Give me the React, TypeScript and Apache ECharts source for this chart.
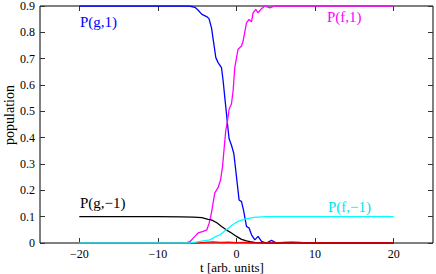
import React, { useEffect, useRef } from "react";
import * as echarts from "echarts";

// P(g,1) — blue
const tGg1 = [-20, -10, -6, -5.3, -4.9, -4.4, -3.8, -3.5, -3.18, -2.88, -2.63, -2.34, -1.91, -1.7, -1.49, -1.27, -1.14, -0.94, -0.64, -0.34, 0, 0.33, 0.64, 0.93, 1.27, 1.6, 1.91, 2.33, 2.74, 3.18, 3.81, 4.45, 5.08, 6, 7, 8, 9, 20];
const vGg1 = [0.9, 0.9, 0.9, 0.895, 0.885, 0.868, 0.86, 0.852, 0.817, 0.755, 0.704, 0.685, 0.666, 0.616, 0.553, 0.49, 0.45, 0.396, 0.371, 0.34, 0.251, 0.163, 0.157, 0.119, 0.063, 0.057, 0.031, 0.012, 0.025, 0.006, 0, 0.01, 0, 0.002, 0.003, 0.002, 0, 0];

// P(f,1) — magenta
const tGf1 = [-20, -10, -6.5, -5.93, -5.3, -4.88, -4.24, -3.77, -3.48, -3.18, -2.76, -2.34, -2.03, -1.78, -1.52, -1.36, -1.14, -0.94, -0.64, -0.43, -0.22, 0.2, 0.64, 0.84, 1.27, 1.6, 1.91, 2.11, 2.45, 2.74, 3.18, 3.6, 4.23, 4.86, 20];
const vGf1 = [0, 0, 0, 0.005, 0.025, 0.038, 0.044, 0.05, 0.075, 0.115, 0.19, 0.21, 0.239, 0.289, 0.377, 0.428, 0.465, 0.509, 0.528, 0.578, 0.666, 0.736, 0.748, 0.767, 0.836, 0.849, 0.84, 0.874, 0.887, 0.874, 0.89, 0.9, 0.893, 0.9, 0.9];

// P(g,-1) — black
const tGgm1 = [-20, -10, -7, -5.5, -4.4, -3.6, -3.2, -2.5, -1.9, -1.3, -0.64, 0, 0.64, 1.27, 1.7, 2.3, 3.2, 4.2, 20];
const vGgm1 = [0.1, 0.1, 0.099, 0.098, 0.096, 0.09, 0.088, 0.077, 0.063, 0.05, 0.038, 0.025, 0.014, 0.008, 0.005, 0.002, 0.001, 0, 0];

// red (unlabelled)
const tRed = [-20, -5, -4, -3, -2, -1, 0, 1, 2, 20];
const vRed = [0, 0, 0.002, 0.004, 0.002, 0.003, 0.001, 0.002, 0, 0];

// P(f,-1) — cyan
const tGfm1 = [-20, -6, -5.2, -4.6, -3.4, -2.6, -2.1, -1.3, -0.7, -0.2, 0.2, 0.6, 1.2, 2.2, 3.2, 3.8, 20];
const vGfm1 = [0, 0, 0.003, 0.006, 0.012, 0.025, 0.031, 0.05, 0.065, 0.075, 0.082, 0.086, 0.092, 0.097, 0.099, 0.1, 0.1];

const xTicks = [-20, -10, 0, 10, 20];

const FONT = "Liberation Serif";

const zip = (t: number[], v: number[]) => t.map((x, i) => [x, v[i]]);

export default function App() {
  const ref = useRef<HTMLDivElement>(null);
  useEffect(() => {
    document.body.style.margin = "0";
    if (!ref.current) return;
    const chart = echarts.init(ref.current, undefined, { renderer: "svg" });
    const line = (name: string, t: number[], v: number[], color: string) => ({
      name,
      type: "line",
      data: zip(t, v),
      showSymbol: false,
      symbol: "none",
      lineStyle: { color, width: 1.3 },
      itemStyle: { color },
      xAxisIndex: 0,
      yAxisIndex: 0,
    });
    const fmtX = (v: number) => (v < 0 ? "\u2212" + Math.abs(v) : String(v));
    const tick = { inside: true, length: 5, lineStyle: { color: "#333" } };
    const noLine = { show: false, onZero: false };
    const txt = (text: string, x: number, y: number, fill: string, size: number, extra: any = {}) => ({
      type: "text",
      x,
      y,
      ...extra,
      style: { text, fill, fontFamily: FONT, fontSize: size, textAlign: extra.align || "left", textVerticalAlign: "middle" },
    });
    chart.setOption({
      animation: false,
      grid: { left: 40, right: 3, top: 5, bottom: 31, show: true, borderColor: "#000", borderWidth: 1, backgroundColor: "#fff" },
      xAxis: [
        {
          type: "value", min: -25, max: 25, position: "bottom",
          axisLine: noLine,
          splitLine: { show: false },
          axisTick: { ...tick, customValues: xTicks },
          axisLabel: { customValues: xTicks, formatter: fmtX, fontFamily: FONT, fontSize: 12, color: "#000", margin: 5 },
        },
        {
          type: "value", min: -25, max: 25, position: "top",
          axisLine: noLine,
          splitLine: { show: false },
          axisTick: { ...tick, customValues: xTicks },
          axisLabel: { show: false },
        },
      ],
      yAxis: [
        {
          type: "value", min: 0, max: 0.9, interval: 0.1, position: "left",
          axisLine: noLine,
          splitLine: { show: false },
          axisTick: tick,
          axisLabel: { formatter: (v: number) => (v === 0 ? "0" : v.toFixed(1)), fontFamily: FONT, fontSize: 12, color: "#000", margin: 5 },
        },
        {
          type: "value", min: 0, max: 0.9, interval: 0.1, position: "right",
          axisLine: noLine,
          splitLine: { show: false },
          axisTick: tick,
          axisLabel: { show: false },
        },
      ],
      series: [
        line("P(g,1)", tGg1, vGg1, "#0000ff"),
        line("P(f,1)", tGf1, vGf1, "#ff00ff"),
        line("P(g,-1)", tGgm1, vGgm1, "#000000"),
        line("red", tRed, vRed, "#ff0000"),
        line("P(f,-1)", tGfm1, vGfm1, "#00ffff"),
      ],
      graphic: [
        txt("P(g,1)", 80, 22, "#0000ff", 15),
        txt("P(f,1)", 327, 17, "#ff00ff", 15),
        txt("P(g,\u22121)", 80, 203, "#000000", 15),
        txt("P(f,\u22121)", 328, 207, "#00e5ee", 15),
        txt("t [arb. units]", 232, 267.2, "#000", 13, { align: "center" }),
        txt("population", 9, 115, "#000", 14, { align: "center", rotation: Math.PI / 2 }),
      ],
    });
    return () => chart.dispose();
  }, []);
  return <div ref={ref} style={{ width: 436, height: 274 }} />;
}
